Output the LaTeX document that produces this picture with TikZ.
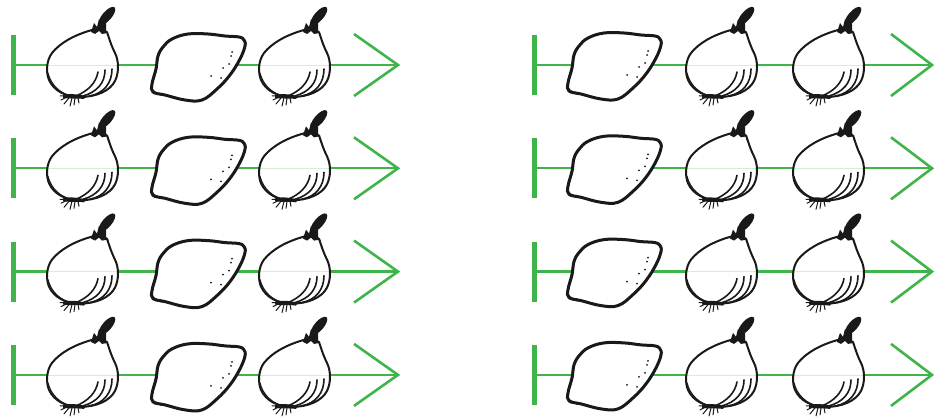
\documentclass[tikz,border=0pt]{standalone}
\usetikzlibrary{calc}
\definecolor{axisgreen}{RGB}{62,180,74}
\definecolor{ink}{RGB}{25,25,25}
\tikzset{
  axisline/.style={draw=axisgreen,line width=2.3pt},
  barline/.style={draw=axisgreen,line width=5pt},
  chevron/.style={draw=axisgreen,line width=2.6pt,miter limit=20},
  guide/.style={draw=axisgreen!22,line width=0.8pt},
  inkline/.style={draw=ink,line width=2pt,line cap=round,line join=round},
  onion/.pic={
    \fill[white] (10,-35) .. controls (-8,-30) and (-22,-22) .. (-30,-12)
      .. controls (-36,-4) and (-36,8) .. (-33,15)
      .. controls (-28,26) and (-16,32) .. (-2,32)
      .. controls (14,32) and (28,26) .. (33,16)
      .. controls (37,8) and (37,-4) .. (33,-12)
      .. controls (29,-20) and (27,-27) .. (25,-33) -- cycle;
    \draw[guide] (-35,0) -- (36,0);
    \draw[inkline] (10,-35) .. controls (-8,-30) and (-22,-22) .. (-30,-12)
      .. controls (-36,-4) and (-36,8) .. (-33,15)
      .. controls (-28,26) and (-16,32) .. (-2,32)
      .. controls (14,32) and (28,26) .. (33,16)
      .. controls (37,8) and (37,-4) .. (33,-12)
      .. controls (29,-20) and (27,-27) .. (25,-33);
    \draw[inkline,line width=1.1pt] (-34,8) .. controls (-31,20) and (-22,29) .. (-8,32);
    \draw[inkline,line width=1.6pt] (30,4) .. controls (30,18) and (22,28) .. (8,31);
    \draw[inkline,line width=1.6pt] (23,5) .. controls (23,18) and (15,27) .. (1,31);
    \draw[inkline,line width=1.6pt] (16,7) .. controls (14,18) and (6,26) .. (-6,31);
    \fill[ink] (-19,30) .. controls (-10,28) and (-2,30) .. (4,31) -- (2,34)
      .. controls (-6,33) and (-12,34) .. (-19,33) -- cycle;
    \draw[ink,line width=1pt,line cap=round]
      (-15,32) -- (-21,35) (-13,33) -- (-18,39) (-10,33) -- (-12,41)
      (-7,33) -- (-8,40) (-4,33) -- (-3,38) (-16,31) -- (-22,31);
    \fill[ink,rotate around={49:(25,-49)}] (25,-49) ellipse [x radius=11.5, y radius=4.6];
    \fill[ink] (9,-33) -- (12,-42) -- (15,-38) -- (17,-46) -- (20,-41) -- (24,-42)
      -- (24,-35) -- (26,-32) -- (20,-31) -- (17,-34) -- (13,-31) -- cycle;
  },
  lemon/.pic={
    \filldraw[fill=white,draw=ink,line width=3pt,line join=round]
      plot[smooth cycle,tension=0.65] coordinates {
        (-26,-26) (-10,-31) (10,-31) (27,-29) (41,-28) (46,-25) (47,-19)
        (42,-6) (32,10) (19,24) (4,35) (-13,35) (-33,30) (-45,27) (-46,19)
        (-42,4) (-40,-9) (-35,-18)};
    \draw[ink,line width=2pt,line cap=round]
      plot[smooth,tension=0.65] coordinates {(-36,-17) (-40,-9) (-42,4) (-46,19) (-45,26) (-36,30)};
    \foreach \p in {(34,-13),(33,-9),(31,-1),(25,3),(23,13),(13,11)}
      \fill[ink] \p circle (1);
  },
}
\begin{document}
\begin{tikzpicture}[x=1pt,y=-1pt]
\useasboundingbox (0,0) rectangle (934,417);
\foreach \i in {0,1,2,3}{
  \pgfmathsetmacro{\ry}{65+103.3*\i}
  % left panel
  \coordinate (Ls\i) at (13,\ry);
  \coordinate (Le\i) at (398,\ry);
  \draw[axisline] (Ls\i) -- (Le\i);
  \draw[barline] ($(Ls\i)+(0,-30)$) -- ($(Ls\i)+(0,30)$);
  \draw[chevron] ($(Le\i)+(-44,-31)$) -- (Le\i) -- ($(Le\i)+(-44,31)$);
  \pic at (82,\ry) {onion};
  \pic at (198,\ry) {lemon};
  \pic at (294,\ry) {onion};
  % right panel
  \coordinate (Rs\i) at (534.5,\ry);
  \coordinate (Re\i) at (932,\ry);
  \draw[axisline] (Rs\i) -- (Re\i);
  \draw[barline] ($(Rs\i)+(0,-30)$) -- ($(Rs\i)+(0,30)$);
  \draw[chevron] ($(Re\i)+(-41,-31)$) -- (Re\i) -- ($(Re\i)+(-41,31)$);
  \pic at (614,\ry-1) {lemon};
  \pic at (721,\ry) {onion};
  \pic at (828,\ry) {onion};
}
\end{tikzpicture}
\end{document}
